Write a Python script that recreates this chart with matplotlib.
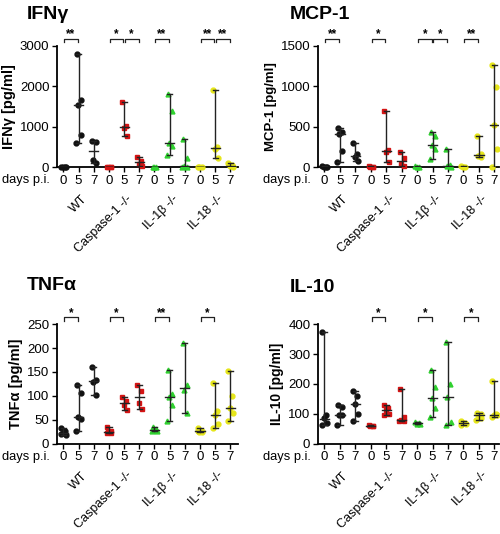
import matplotlib.pyplot as plt
import matplotlib.transforms as mtransforms

plt.rcParams['font.family'] = ['Liberation Sans', 'DejaVu Sans']

days = ['0', '5', '7'] * 4
groups = ['WT', 'Caspase-1 -/-', 'IL-1\u03b2 -/-', 'IL-18 -/-']
colors = ['#111111', '#d41414', '#2fd12f', '#e6e61a']
markers = ['o', 's', '^', 'o']

# values per column (WT 0/5/7, Casp 0/5/7, IL-1b 0/5/7, IL-18 0/5/7)
ifng = [[5, 3, 2, 0], [2800, 1670, 1550, 800, 600], [640, 630, 180, 110],
        [5, 3, 2, 0], [1600, 1010, 960, 760], [240, 160, 90, 40],
        [5, 2, 0], [1800, 1400, 600, 520, 300], [700, 220, 40, 10, 0],
        [5, 2, 0], [1900, 510, 460, 230], [100, 60, 30, 10]]
ifng_med = [0, 1550, 400, 0, 985, 130, 0, 600, 40, 0, 470, 40]

mcp1 = [[8, 5, 3, 0], [480, 430, 410, 200, 60], [300, 160, 120, 70],
        [8, 5, 3, 0], [700, 210, 190, 60], [190, 110, 40, 20],
        [8, 3, 0], [440, 390, 280, 230, 100], [230, 25, 10, 0],
        [8, 3, 0], [380, 160, 140, 120], [1260, 990, 520, 220, 0]]
mcp1_med = [3, 410, 140, 3, 200, 75, 3, 280, 15, 3, 150, 520]

tnfa = [[32, 27, 22, 18, 20], [122, 107, 55, 52, 27], [160, 133, 130, 102],
        [36, 26, 24, 22, 23], [97, 90, 80, 70], [122, 110, 85, 73],
        [35, 30, 28, 27, 26], [155, 103, 98, 82, 48], [210, 122, 112, 65],
        [33, 27, 25, 25, 26], [128, 68, 60, 42, 33], [152, 100, 75, 65, 47]]
tnfa_med = [22, 55, 131, 24, 85, 97, 28, 98, 117, 26, 60, 75]

il10 = [[375, 95, 85, 70, 63], [128, 122, 97, 95, 62], [175, 160, 132, 100, 75],
        [62, 60, 58, 60], [128, 118, 112, 100, 95], [182, 90, 80, 77, 75],
        [72, 68, 67, 66], [248, 190, 153, 120, 88], [340, 200, 155, 72, 64],
        [75, 70, 68, 65, 62], [103, 100, 95, 85, 80], [210, 100, 97, 95, 90]]
il10_med = [82, 97, 132, 60, 112, 80, 68, 153, 155, 68, 95, 97]

# significance brackets: (left column, right column, label)
ifng_sig = [(0, 1, '**'), (3, 4, '*'), (4, 5, '*'), (6, 7, '**'), (9, 10, '**'), (10, 11, '**')]
mcp1_sig = [(0, 1, '**'), (3, 4, '*'), (6, 7, '*'), (7, 8, '*'), (9, 10, '**')]
tnfa_sig = [(0, 1, '*'), (3, 4, '*'), (6, 7, '**'), (9, 10, '*')]
il10_sig = [(3, 4, '*'), (6, 7, '*'), (9, 10, '*')]

jitter = [-0.13, 0.13, -0.04, 0.16, -0.16]

fig = plt.figure(figsize=(5.0, 5.34), dpi=100)


def panel(rect, title, title_xy, ylabel, data, med, sig, ymax, yticks, right, ylsize):
    ax = fig.add_axes(rect)
    for i, vals in enumerate(data):
        g = i // 3
        xs = [i + jitter[k % len(jitter)] for k in range(len(vals))]
        ax.plot(xs, vals, linestyle='none', marker=markers[g], ms=3.5,
                color=colors[g], mec=colors[g], zorder=3, clip_on=False)
        lo, hi = min(vals), max(vals)
        ax.plot([i, i], [lo, hi], color='#222222', lw=1, zorder=4)
        ax.plot([i - 0.17, i + 0.17], [lo, lo], color='#222222', lw=1, zorder=4)
        ax.plot([i - 0.17, i + 0.17], [hi, hi], color='#222222', lw=1, zorder=4)
        ax.plot([i - 0.3, i + 0.3], [med[i], med[i]], color='#222222', lw=1, zorder=4)
    ax.set_xlim(-0.42, right)
    ax.set_ylim(0, ymax)
    ax.set_yticks(yticks)
    ax.set_xticks(range(12))
    ax.set_xticklabels(days)
    ax.tick_params(labelsize=9.5, length=3.5, width=1, pad=2)
    for s in ['top', 'right']:
        ax.spines[s].set_visible(False)
    for s in ['left', 'bottom']:
        ax.spines[s].set_linewidth(1.3)
    ax.set_ylabel(ylabel, fontsize=ylsize, fontweight='bold', labelpad=3)
    fig.text(title_xy[0], title_xy[1], title, fontsize=14, fontweight='bold',
             ha='left', va='center')
    trans = mtransforms.blended_transform_factory(ax.transData, ax.transAxes)
    ax.text(-0.9, -0.11, 'days p.i.', transform=trans, fontsize=9.3,
            ha='right', va='center')
    for a, b, lab in sig:
        x0, x1 = a + 0.05, b - 0.05
        ax.plot([x0, x0, x1, x1], [1.03, 1.06, 1.06, 1.03], color='#222222',
                lw=0.9, transform=trans, clip_on=False)
        ax.text((x0 + x1) / 2, 1.045, lab, transform=trans, ha='center',
                va='bottom', fontsize=8.5, fontweight='bold')
    for g, name in enumerate(groups):
        ax.text(g * 3 + 1.15, -0.215, name, transform=trans, rotation=45,
                rotation_mode='anchor', ha='right', va='top', fontsize=9)
    return ax


panel([0.114, 0.687, 0.362, 0.227], 'IFN\u03b3', (0.054, 0.972), 'IFN\u03b3 [pg/ml]',
      ifng, ifng_med, ifng_sig, 3000, [0, 1000, 2000, 3000], 11.5, 10.5)
panel([0.636, 0.687, 0.362, 0.227], 'MCP-1', (0.58, 0.972), 'MCP-1 [pg/ml]',
      mcp1, mcp1_med, mcp1_sig, 1500, [0, 500, 1000, 1500], 11.3, 9.5)
panel([0.114, 0.169, 0.362, 0.224], 'TNF\u03b1', (0.054, 0.466), 'TNF\u03b1 [pg/ml]',
      tnfa, tnfa_med, tnfa_sig, 250, [0, 50, 100, 150, 200, 250], 11.5, 10.5)
panel([0.636, 0.169, 0.362, 0.224], 'IL-10', (0.58, 0.462), 'IL-10 [pg/ml]',
      il10, il10_med, il10_sig, 400, [0, 100, 200, 300, 400], 11.3, 10)

fig.savefig('out.png', dpi=100)
